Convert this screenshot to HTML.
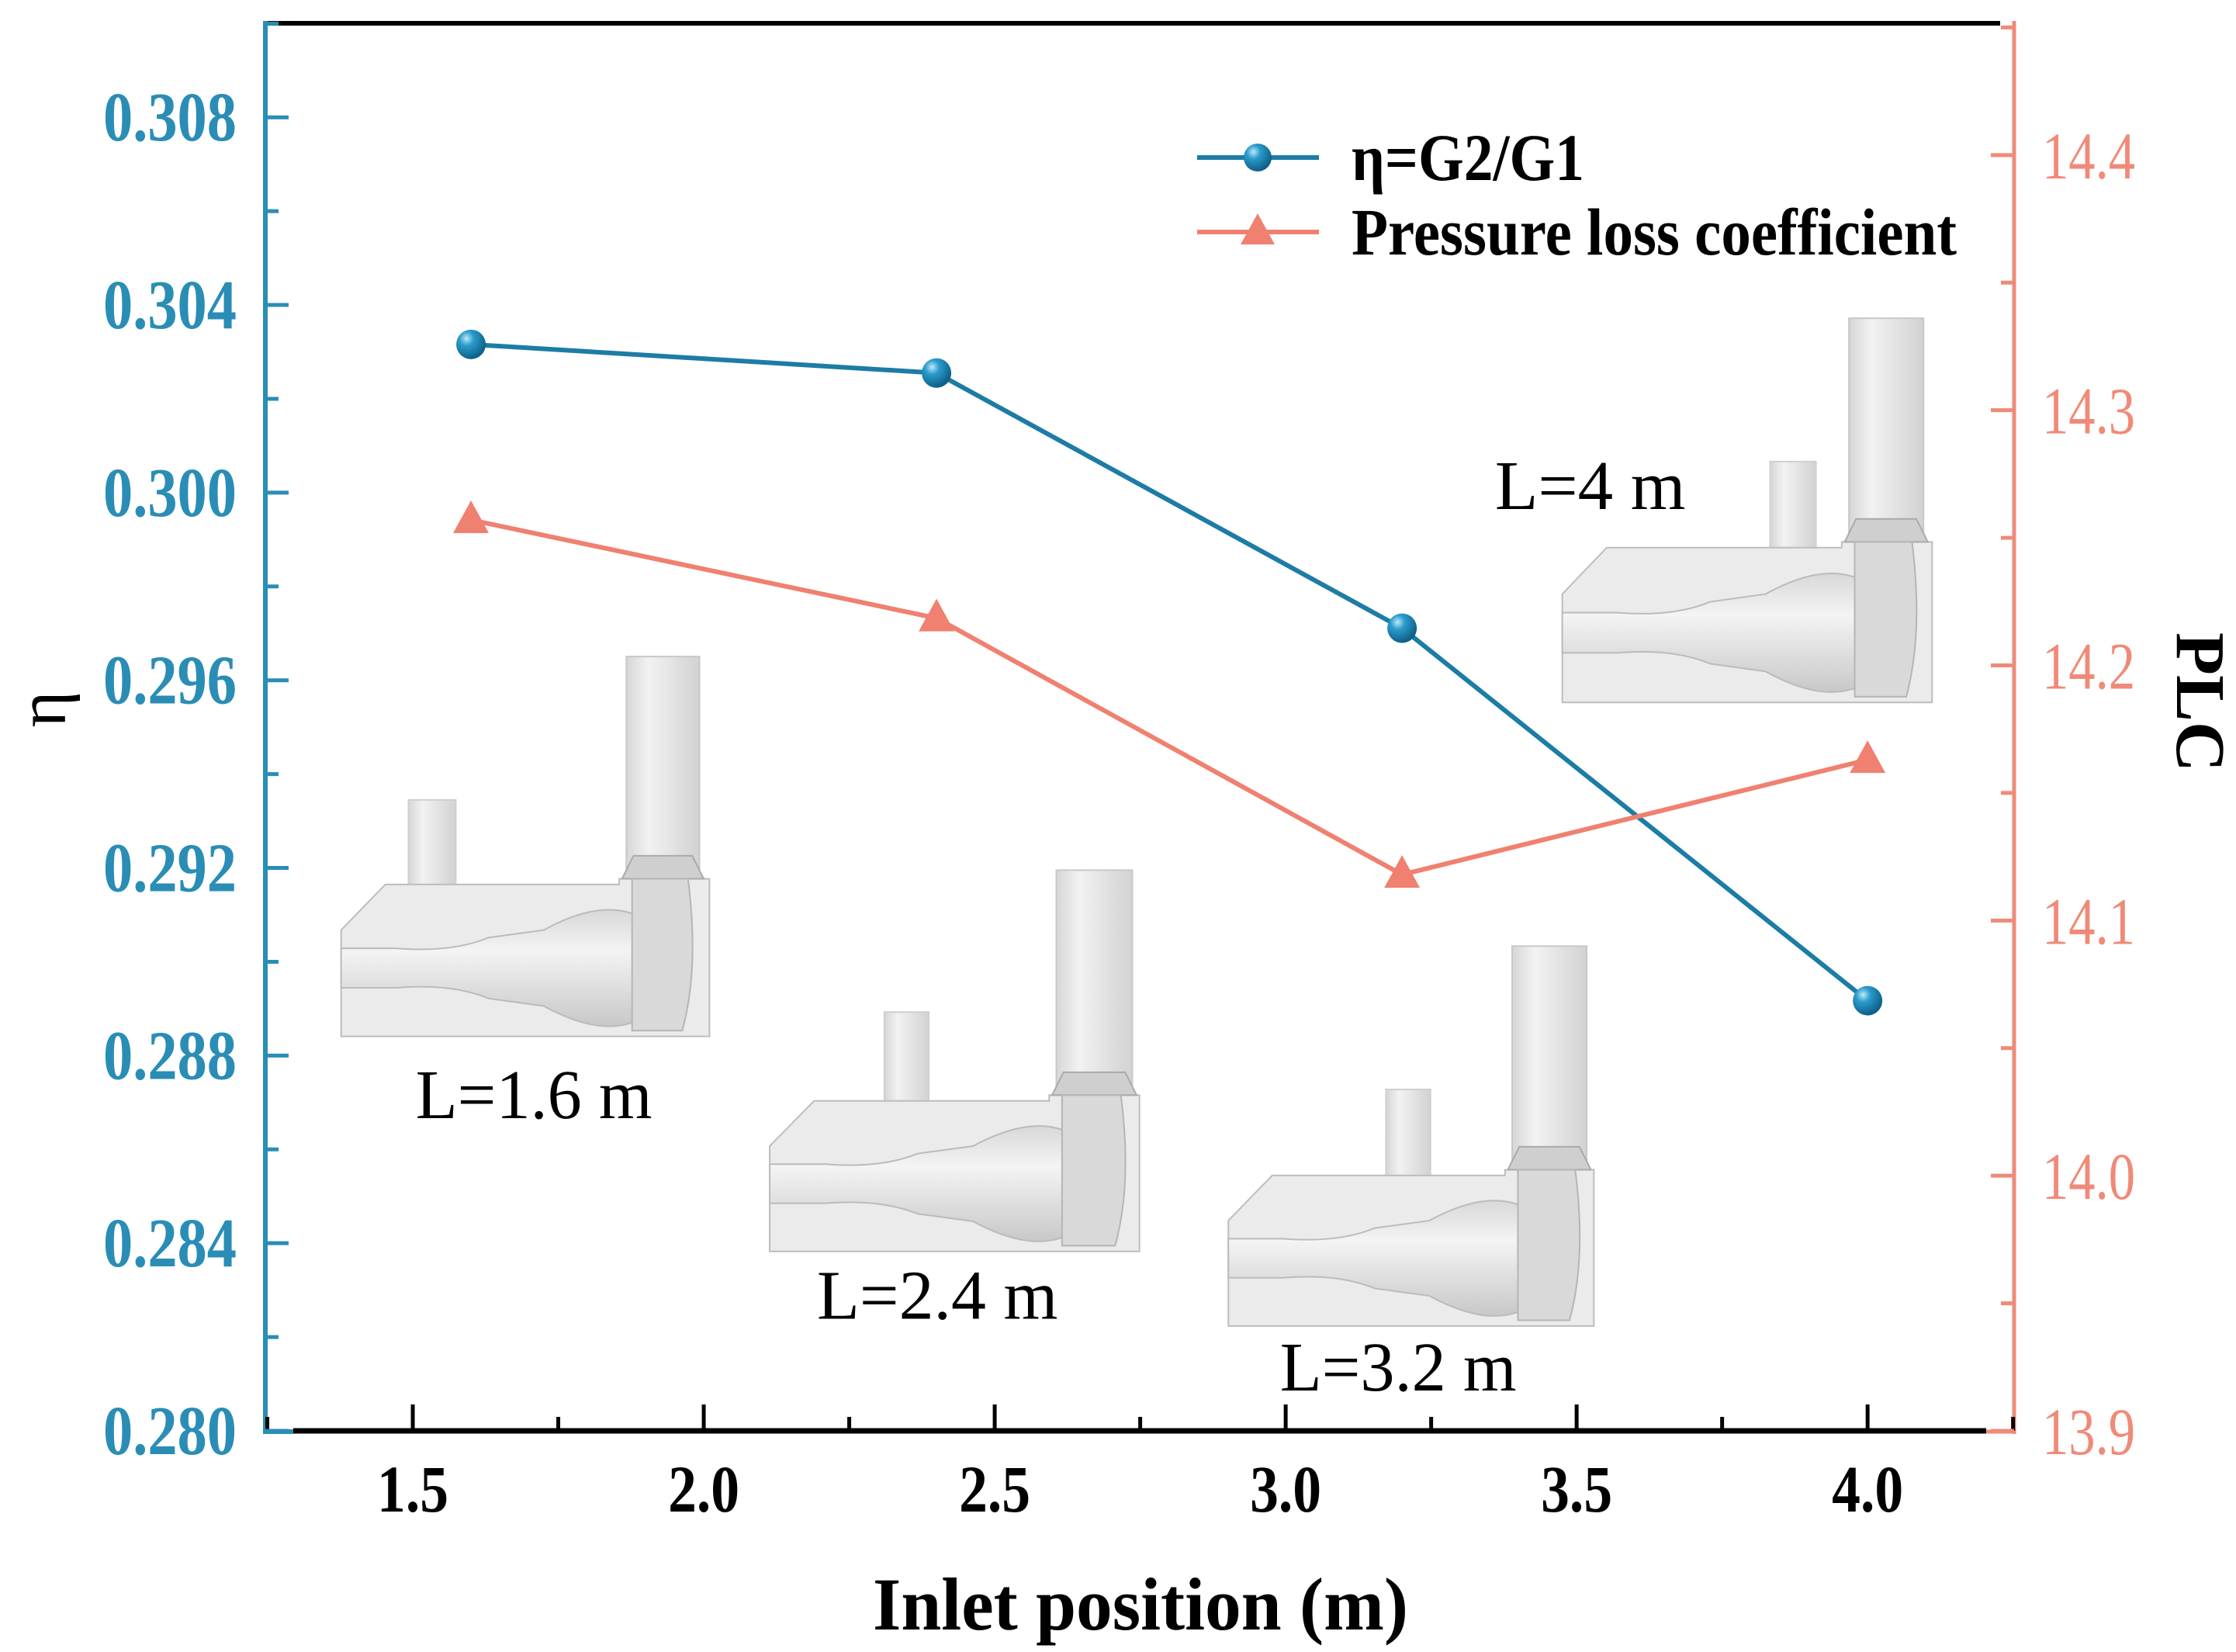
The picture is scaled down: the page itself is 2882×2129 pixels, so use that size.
<!DOCTYPE html>
<html><head><meta charset="utf-8"><style>
html,body{margin:0;padding:0;background:#fff;}
svg{display:block;}
text{font-family:"Liberation Serif",serif;}
</style></head><body>
<svg id="chart" width="2882" height="2129" viewBox="0 0 2882 2129" xmlns="http://www.w3.org/2000/svg">
<defs>
<radialGradient id="ball" cx="0.35" cy="0.3" r="0.7">
<stop offset="0" stop-color="#bfe8f8"/><stop offset="0.35" stop-color="#2a9ccc"/><stop offset="1" stop-color="#0d5f87"/>
</radialGradient>
<linearGradient id="pipe" x1="0" x2="1" y1="0" y2="0">
<stop offset="0" stop-color="#d6d6d6"/><stop offset="0.3" stop-color="#f2f2f2"/><stop offset="1" stop-color="#d2d2d2"/>
</linearGradient>
<linearGradient id="tube" x1="0" x2="0" y1="0" y2="1">
<stop offset="0" stop-color="#d8d8d8"/><stop offset="0.35" stop-color="#f4f4f4"/><stop offset="1" stop-color="#c8c8c8"/>
</linearGradient>
</defs>
<g id="insets"></g>
<g id="axes"></g>
<g id="series"></g>
<g id="legend"></g>
</svg>
<script>
const categories = [1.6, 2.4, 3.2, 4.0];
const etaValues = [0.30316, 0.30255, 0.29711, 0.28917];
const plcValues = [14.257, 14.2185, 14.118, 14.163];
const xTicks = ["1.5","2.0","2.5","3.0","3.5","4.0"];
const yLeftTicks = ["0.280","0.284","0.288","0.292","0.296","0.300","0.304","0.308"];
const yRightTicks = ["13.9","14.0","14.1","14.2","14.3","14.4"];

const NS = "http://www.w3.org/2000/svg";
const K = 1.8474;
function mk(tag, attrs, parent){const e=document.createElementNS(NS,tag);for(const k in attrs)e.setAttribute(k,attrs[k]);parent.appendChild(e);return e;}
const L=342, R=2596, T=30, B=1844;
function xs(v){return 288*K + (v-1.5)/0.5*203*K;}
function yl(v){return B - (v-0.280)/0.004*130.9*K;}
function yr(v){return B - (v-13.9)/0.1*178*K;}

const axes=document.getElementById('axes');
const blue="#2a8db5", sal="#f08a78";
let e;
e=mk('line',{x1:L,y1:T,x2:2578,y2:T,stroke:"#000","stroke-width":6},axes);

e=mk('line',{x1:378,y1:B,x2:2560,y2:B,stroke:"#000","stroke-width":7},axes);

e=mk('line',{x1:L,y1:T-3,x2:L,y2:B+4,stroke:blue,"stroke-width":6},axes);

e=mk('line',{x1:L,y1:B+1,x2:378,y2:B+1,stroke:blue,"stroke-width":6},axes);
e=mk('line',{x1:R,y1:T-3,x2:R,y2:B+4,stroke:sal,"stroke-width":5},axes);

e=mk('line',{x1:2560,y1:B+1,x2:R,y2:B+1,stroke:sal,"stroke-width":5},axes);

// x ticks
xTicks.forEach((t,i)=>{const v=parseFloat(t);const x=xs(v);
 mk('line',{x1:x,y1:B,x2:x,y2:B-34,stroke:"#000","stroke-width":5},axes);
 const tx=mk('text',{x:x-46,y:1948,"font-size":86,"font-weight":"bold",fill:"#000",textLength:92,lengthAdjust:"spacingAndGlyphs"},axes);
 tx.textContent=t;
 
 if(i<xTicks.length-1){const xm=xs(v+0.25);mk('line',{x1:xm,y1:B,x2:xm,y2:B-18,stroke:"#000","stroke-width":5},axes);}
});
mk('line',{x1:xs(1.25),y1:B,x2:xs(1.25),y2:B-18,stroke:"#000","stroke-width":5},axes);
mk('line',{x1:xs(4.25),y1:B,x2:xs(4.25),y2:B-18,stroke:"#000","stroke-width":5},axes);
// left ticks
yLeftTicks.forEach((t,i)=>{const v=parseFloat(t);const y=yl(v);
 mk('line',{x1:L,y1:y,x2:L+30,y2:y,stroke:blue,"stroke-width":5},axes);
 const tx=mk('text',{x:133,y:y+30,"font-size":90,"font-weight":"bold",fill:blue,textLength:172,lengthAdjust:"spacingAndGlyphs"},axes);
 tx.textContent=t;
 
 const ym=yl(v+0.002);if(ym>T)mk('line',{x1:L,y1:ym,x2:L+17,y2:ym,stroke:blue,"stroke-width":5},axes);
});
// right ticks
yRightTicks.forEach((t,i)=>{const v=parseFloat(t);const y=yr(v);
 mk('line',{x1:R,y1:y,x2:R-30,y2:y,stroke:sal,"stroke-width":5},axes);
 const tx=mk('text',{x:2632,y:y+30,"font-size":86,fill:sal,textLength:120,lengthAdjust:"spacingAndGlyphs"},axes);
 tx.textContent=t;
 
 const ym=yr(v+0.05);if(ym>T)mk('line',{x1:R,y1:ym,x2:R-17,y2:ym,stroke:sal,"stroke-width":5},axes);
});
e=mk('text',{x:1125,y:2100,"font-size":96,"font-weight":"bold",fill:"#000",textLength:690,lengthAdjust:"spacingAndGlyphs"},axes);
e.textContent="Inlet position (m)";

e=mk('text',{x:0,y:0,"text-anchor":"middle","font-size":90,fill:"#000",transform:"translate(84,914) rotate(-90)"},axes);
e.textContent="η";

e=mk('text',{x:0,y:0,"text-anchor":"middle","font-size":90,"font-weight":"bold",fill:"#000",transform:"translate(2806,905) rotate(90)"},axes);
e.textContent="PLC";


// insets (decorative drawings)
const ins=document.getElementById('insets');
function inset(x0,x1,yb0,yb1,cx0,cx1,cy0,sx0,sx1,sy0,name){
 const g=mk('g',{},ins);
 
 const a=v=>v*K;
 mk('rect',{x:a(cx0),y:a(cy0),width:a(cx1-cx0),height:a(yb0-cy0),fill:"url(#pipe)",stroke:"#c8c8c8","stroke-width":2},g);
 mk('rect',{x:a(sx0),y:a(sy0),width:a(sx1-sx0),height:a(yb0-sy0),fill:"url(#pipe)",stroke:"#cfcfcf","stroke-width":2},g);
 mk('path',{d:`M${a(x0)} ${a(yb0+(yb1-yb0)*0.3)} L${a(x0+(x1-x0)*0.12)} ${a(yb0)} L${a(cx0-5)} ${a(yb0)} L${a(cx0-5)} ${a(yb0-4)} L${a(x1)} ${a(yb0-4)} L${a(x1)} ${a(yb1)} L${a(x0)} ${a(yb1)} Z`,fill:"#ebebeb",stroke:"#bdbdbd","stroke-width":2},g);
 mk('path',{d:`M${a(cx0-3)} ${a(yb0-4)} L${a(cx0+5)} ${a(yb0-20)} L${a(cx1-5)} ${a(yb0-20)} L${a(cx1+3)} ${a(yb0-4)} Z`,fill:"#cfcfcf",stroke:"#aaa","stroke-width":2},g);
 const w=x1-x0, h=yb1-yb0, mid=yb0+h*0.55;
 mk('path',{d:`M${a(x0)} ${a(mid-h*0.13)} L${a(x0+w*0.15)} ${a(mid-h*0.13)} Q${a(x0+w*0.3)} ${a(mid-h*0.1)} ${a(x0+w*0.4)} ${a(mid-h*0.2)} L${a(x0+w*0.55)} ${a(mid-h*0.25)} Q${a(x0+w*0.7)} ${a(mid-h*0.45)} ${a(x0+w*0.8)} ${a(mid-h*0.35)} L${a(x0+w*0.8)} ${a(mid+h*0.35)} Q${a(x0+w*0.7)} ${a(mid+h*0.45)} ${a(x0+w*0.55)} ${a(mid+h*0.25)} L${a(x0+w*0.4)} ${a(mid+h*0.2)} Q${a(x0+w*0.3)} ${a(mid+h*0.1)} ${a(x0+w*0.15)} ${a(mid+h*0.13)} L${a(x0)} ${a(mid+h*0.13)} Z`,fill:"url(#tube)",stroke:"#bbb","stroke-width":2},g);
 mk('path',{d:`M${a(cx0+4)} ${a(yb0-4)} L${a(cx1-8)} ${a(yb0-4)} Q${a(cx1)} ${a(mid)} ${a(cx1-12)} ${a(yb1-4)} L${a(cx0+4)} ${a(yb1-4)} Z`,fill:"#d9d9d9",stroke:"#b5b5b5","stroke-width":2},g);
}
inset(238,495,617,723,437,488,458,285,318,558,'inset-l-1-6');
inset(537,795,768,873,737,790,607,617,648,706,'inset-l-2-4');
inset(857,1112,820,925,1055,1107,660,967,998,760,'inset-l-3-2');
inset(1090,1348,382,490,1290,1342,222,1235,1267,322,'inset-l-4');
[["L=1.6 m",290,455,780,'label-l-1-6'],["L=2.4 m",570,738,920,'label-l-2-4'],["L=3.2 m",893,1058,970,'label-l-3-2'],["L=4 m",1043,1176,355,'label-l-4']].forEach(d=>{
 const t=mk('text',{x:d[1]*K,y:d[3]*K,"font-size":90,fill:"#000",textLength:(d[2]-d[1])*K,lengthAdjust:"spacingAndGlyphs"},ins);
 t.textContent=d[0];
 
});

// series
const ser=document.getElementById('series');
let pts=categories.map((c,i)=>xs(c)+","+yl(etaValues[i])).join(" ");
e=mk('polyline',{points:pts,fill:"none",stroke:"#1d7ca6","stroke-width":6},ser);

pts=categories.map((c,i)=>xs(c)+","+yr(plcValues[i])).join(" ");
e=mk('polyline',{points:pts,fill:"none",stroke:"#f08070","stroke-width":6},ser);

categories.forEach((c,i)=>{
 const m=mk('circle',{cx:xs(c),cy:yl(etaValues[i]),r:19,fill:"url(#ball)"},ser);
 
 const x=xs(c),y=yr(plcValues[i]);
 const p=mk('polygon',{points:`${x},${y-25} ${x-23},${y+17} ${x+23},${y+17}`,fill:"#f08070"},ser);
 
});

// legend
const lg=document.getElementById('legend');
e=mk('line',{x1:1543,y1:203,x2:1700,y2:203,stroke:"#1d7ca6","stroke-width":6},lg);

e=mk('circle',{cx:1621,cy:203,r:18,fill:"url(#ball)"},lg);
e=mk('text',{x:1742,y:232,"font-size":86,"font-weight":"bold",fill:"#000",textLength:300,lengthAdjust:"spacingAndGlyphs"},lg);
e.textContent="η=G2/G1";

e=mk('line',{x1:1543,y1:299,x2:1700,y2:299,stroke:"#f08070","stroke-width":6},lg);

e=mk('polygon',{points:"1621,275 1599,315 1643,315",fill:"#f08070"},lg);
e=mk('text',{x:1742,y:328,"font-size":86,"font-weight":"bold",fill:"#000",textLength:780,lengthAdjust:"spacingAndGlyphs"},lg);
e.textContent="Pressure loss coefficient";

</script>
</body></html>
